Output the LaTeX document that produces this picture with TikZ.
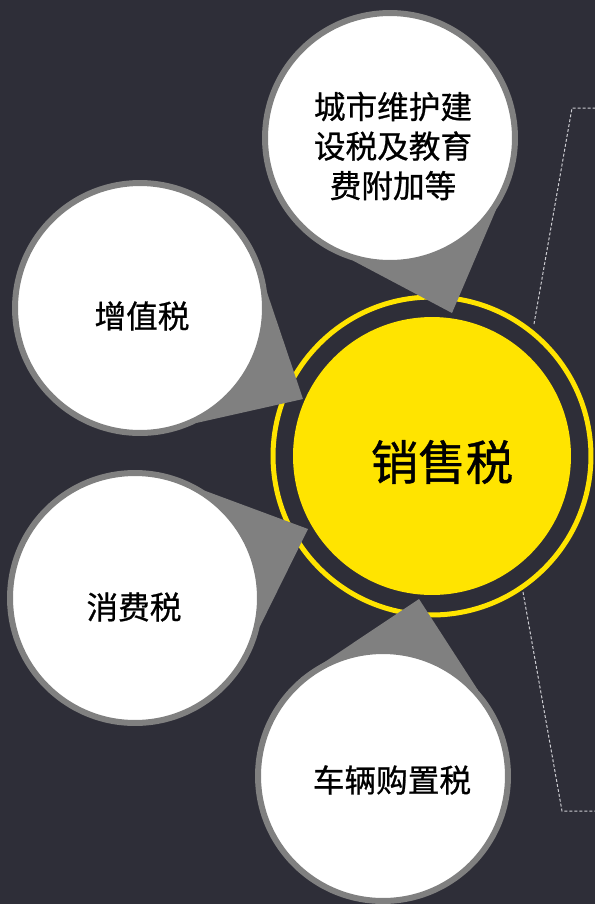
\documentclass[tikz,border=0pt]{standalone}
\usepackage{fontspec}
\newfontfamily\cjk{Noto Sans CJK SC}[FakeBold=0.8]
\definecolor{bgdark}{RGB}{46,46,56}
\definecolor{taxyellow}{RGB}{255,228,0}
\definecolor{tailgrey}{RGB}{128,128,128}
\definecolor{dashgrey}{RGB}{205,205,210}
\pgfdeclarelayer{back}
\pgfdeclarelayer{mid}
\pgfsetlayers{back,mid,main}
\begin{document}
\begin{tikzpicture}[x=0.02cm, y=-0.02cm,
  bubble/.style={circle, fill=white, draw=tailgrey, line width=0.12cm, minimum size=5cm, inner sep=0pt},
  core/.style={circle, fill=taxyellow, minimum size=5.56cm, inner sep=0pt},
  halo/.style={circle, draw=taxyellow, line width=0.1cm, minimum size=6.36cm, inner sep=0pt},
  tail/.style={fill=tailgrey},
  txt/.style={font=\cjk\fontsize{18}{22.5}\selectfont, align=center, text=black},
  bigtxt/.style={font=\cjk\fontsize{27}{30}\selectfont, text=black},
  bracket/.style={draw=dashgrey, line width=0.02cm, dash pattern=on 0.06cm off 0.04cm}]
\begin{pgfonlayer}{back}
\fill[bgdark] (0,0) rectangle (595,904);
\useasboundingbox (0,0) rectangle (595,904);
\node[halo] (ring) at (432,456){};
\node[core] (sales) at (432,456){};
\node[bigtxt] (salestext) at (442,462){销售税};
\end{pgfonlayer}
\node[bubble] (city) at (390,138){};
\node[bubble] (vat) at (140,308){};
\node[bubble] (excise) at (135,598){};
\node[bubble] (vehicle) at (383,776){};
\node[txt] (citytext) at (393,146){城市维护建\\设税及教育\\费附加等};
\node[txt] (vattext) at (142,316){增值税};
\node[txt] (excisetext) at (134,607){消费税};
\node[txt] (vehicletext) at (392,780){车辆购置税};
\coordinate (tipcity) at (452,313);
\coordinate (tipvat) at (303,399);
\coordinate (tipexcise) at (308,529);
\coordinate (tipvehicle) at (419,599);
\begin{pgfonlayer}{mid}
\fill[tail] (city.-107) -- (tipcity) -- (city.-34) -- cycle;
\fill[tail] (vat.7) -- (tipvat) -- (vat.-64) -- cycle;
\fill[tail] (excise.57) -- (tipexcise) -- (excise.-13) -- cycle;
\fill[tail] (vehicle.130) -- (tipvehicle) -- (vehicle.42) -- cycle;
\end{pgfonlayer}
% dotted bracket on the right
\coordinate (upperend) at (534,324);
\coordinate (upperbend) at (572,108);
\coordinate (upperout) at (595,108);
\coordinate (lowerend) at (523,592);
\coordinate (lowerbend) at (562,811);
\coordinate (lowerout) at (595,811);
\draw[bracket] (upperend) -- (upperbend) -- (upperout);
\draw[bracket] (lowerend) -- (lowerbend) -- (lowerout);
\end{tikzpicture}
\end{document}
